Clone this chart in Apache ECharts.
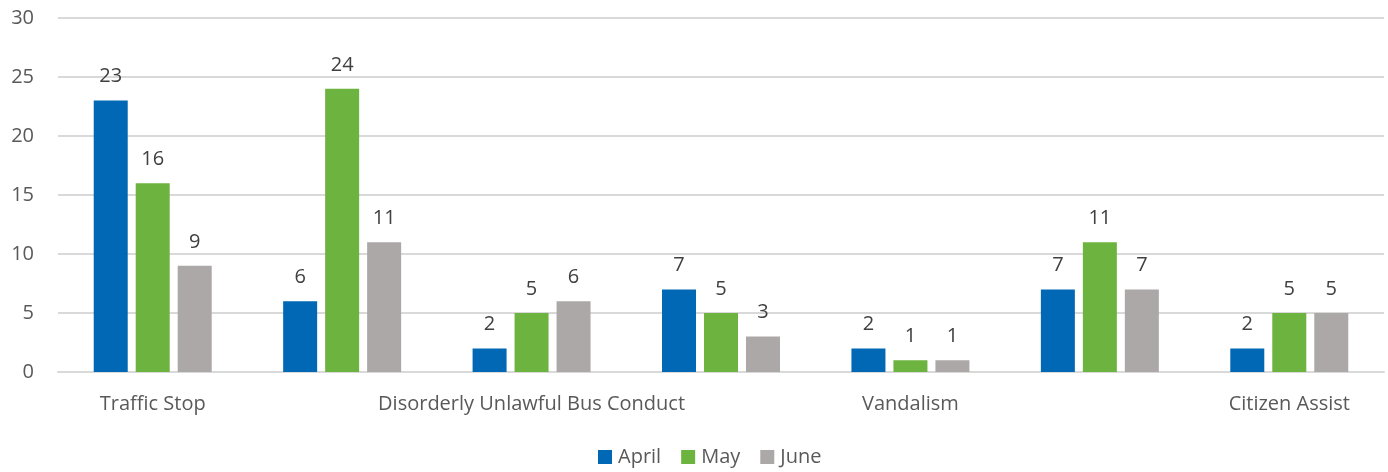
<!DOCTYPE html>
<html>
<head>
<meta charset="utf-8">
<script src="https://cdn.jsdelivr.net/npm/echarts@6/dist/echarts.min.js"></script>
<style>
  html, body { margin: 0; padding: 0; background: #fff; }
  #chart { width: 1388px; height: 472px; }
</style>
</head>
<body>
<div id="chart"></div>
<script>
// categories 1, 3 and 5 have no visible label in the picture
const categories = ['Traffic Stop', 'Suspicious Activity', 'Disorderly Unlawful Bus Conduct', 'Trespass', 'Vandalism', 'Disturbance', 'Citizen Assist'];
const april = [23, 6, 2, 7, 2, 7, 2];
const may = [16, 24, 5, 5, 1, 11, 5];
const june = [9, 11, 6, 3, 1, 7, 5];
const seriesNames = ['April', 'May', 'June'];
const colors = ['#0068b5', '#6db33f', '#aca8a7'];

const font = '"Open Sans", "Liberation Sans", sans-serif';
const textColor = '#595959';

function makeSeries(name, values, color) {
  return {
    name: name,
    type: 'bar',
    data: values,
    barWidth: 34,
    barGap: '23.5%',
    itemStyle: { color: color },
    label: {
      show: true,
      position: 'top',
      distance: 14,
      color: '#404040',
      fontFamily: font,
      fontSize: 20
    }
  };
}

const chart = echarts.init(document.getElementById('chart'));
chart.setOption({
  animation: false,
  color: colors,
  legend: {
    bottom: 0,
    left: 593,
    itemWidth: 14,
    itemHeight: 14,
    itemGap: 20,
    icon: 'rect',
    textStyle: { color: textColor, fontFamily: font, fontSize: 20, padding: [0, 0, 0, 1] },
    data: seriesNames
  },
  grid: { left: 58, right: 4, top: 18, bottom: 100, containLabel: false },
  xAxis: {
    type: 'category',
    data: categories,
    axisLine: { lineStyle: { color: '#d9d9d9', width: 2 } },
    axisTick: { show: false },
    axisLabel: { interval: 1, color: textColor, fontFamily: font, fontSize: 20, margin: 22 }
  },
  yAxis: {
    type: 'value',
    min: 0,
    max: 30,
    interval: 5,
    axisLine: { show: false },
    axisTick: { show: false },
    axisLabel: { color: textColor, fontFamily: font, fontSize: 20, margin: 24 },
    splitLine: { lineStyle: { color: '#d9d9d9', width: 2 } }
  },
  series: [
    makeSeries(seriesNames[0], april, colors[0]),
    makeSeries(seriesNames[1], may, colors[1]),
    makeSeries(seriesNames[2], june, colors[2])
  ]
});
</script>
</body>
</html>
